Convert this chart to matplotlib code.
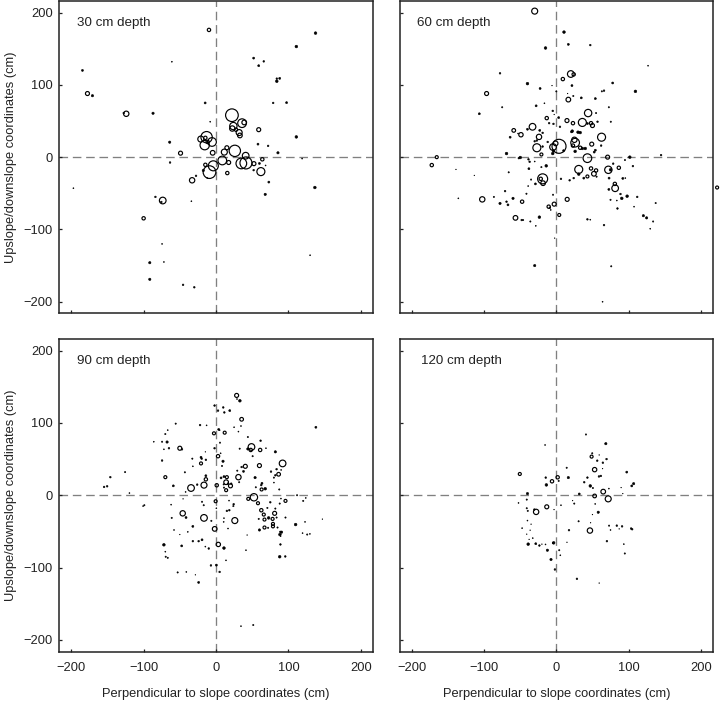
import matplotlib
matplotlib.use('Agg')
import matplotlib.pyplot as plt

plt.rcParams['font.family'] = ['Liberation Sans', 'DejaVu Sans']
plt.rcParams['font.size'] = 9.3

# Root positions (cm) and relative root size at each depth
x_30 = [-9.7, 137.5, 111, -61, 52, 59, 66, -184.5, 84, 88,
        84, -177.6, -170.7, -124, -127.5, -87, -15, 79, 97.5, 22,
        -8, 36, 39, 24, 22.5, 27.6, 32, 33, 59, 111,
        -13, -21, -5.5, -15.6, -14.7, -11.5, -64, 58, 72, 15,
        26, 11.5, -4.6, -49, 85.6, 119, -63.5, 8.7, 17.5, 41.4,
        35, 41, 52.4, 64, 60, 68.5, 52, 62, -14.7, -3.7,
        -9, -17.5, 15.6, -33, -27.6, -12, 73, 136.6, -197, 68,
        -83.7, -73.6, -75.5, -34, -100, -74.5, 130, -91.5, -72, -91.5,
        -45.5, -30]
y_30 = [176, 171.6, 153, 132, 137, 126.5, 132.5, 120, 108.6, 109,
        105, 88, 85, 60, 61, 60.7, 75, 75, 75.4, 58,
        49, 47, 48, 43, 39.6, 38, 34, 30, 38, 28,
        27.6, 25, 21, 16.6, 26.7, 21, 20.7, 18, 15.6, 13,
        8.7, 7, 6, 5.5, 6, -2, -7.4, -4.6, -7.4, -8,
        -8.7, 2, -9, -3, -8.7, -11.5, -18, -20, -10.6, -12,
        -20.7, -18.4, -22, -32, -25.8, -29, -34.5, -42, -43, -51.5,
        -55, -60, -62, -61, -84.6, -120, -135.7, -146, -145, -169,
        -176.6, -180]
d_30 = [10, 8, 8, 3, 6, 6, 5, 6, 5, 6,
        8, 12, 7, 16, 5, 7, 6, 5, 6, 38,
        3, 26, 14, 22, 16, 10, 18, 14, 12, 8,
        34, 18, 26, 28, 10, 10, 7, 6, 5, 12,
        34, 18, 14, 12, 7, 3, 5, 26, 12, 36,
        32, 20, 12, 10, 6, 3, 5, 24, 10, 30,
        38, 7, 10, 16, 5, 3, 6, 8, 3, 7,
        5, 20, 5, 3, 10, 3, 3, 7, 3, 7,
        5, 5]

x_60 = [-30, 10.6, 16.6, 47, -15, 127, -78, 20, 24, 9,
        -40, 78, 21.6, -6, -22.5, 0, 66, 63, 109.5, -96.6,
        15.6, 23.5, 16.6, 34.5, 54, -16.5, -28, -75, 72.7, -106.7,
        -5, 44, 55, -3, -13.3, 3.2, 14.7, 23, 36, 57,
        75.4, -10, -4, 5, 43, 48, 50, -33, -40, -59,
        -23, 22, 21, 30, 33, -19, -49, -53, -64, -24,
        62.6, 25, -27, 26, 3.7, -1, 49, -12, 23, -4.6,
        -27, -19, -30, 33, 36, 40, 62, 54, 52.4, 10,
        26, -4, -5, -20.7, -69, 43, 71, 101.7, 145, -165.6,
        -172.5, -50, -52, -38.6, -37, -30, 95, 78.7, -14, -20.7,
        -38, 106, 86.5, 31, 48, 55, 72, 75, -139, -113.6,
        -66, 31, 52, 43, 38, 55.7, 73, 92, 95.5, 6.4,
        18.4, 24, -19, -21.6, -18.4, -35, -29, -39, 81, 81.4,
        72.7, -71, -41.4, -4.6, 88.8, 98, 90.6, 112, 75, 83.7,
        -135.7, -102.6, -86.5, -60, -47.4, -78, -69, -67, 15, -3,
        -10.6, -7.8, -9, 137.5, 107.6, 84.6, 4, -56.6, -23.5, -48,
        -46, -36, 43, 47, 120.5, 125, 134, 130, 66, -28.5,
        -2.3, -30, 76, 64, 222.6]
y_60 = [202, 173, 156, 155, 151, 126.5, 116, 115, 114.5, 108,
        101.7, 102.6, 99, 99, 95, 91, 92, 91, 91, 88,
        88, 84.6, 79.6, 82, 81, 74.5, 71, 69, 69, 60,
        64, 61, 61, 59, 54, 54.7, 50.6, 47, 48, 49,
        49, 47, 46, 42, 46.5, 47, 43.7, 42, 38.6, 37,
        37, 36, 35, 34.5, 34, 33.6, 31, 32.7, 27.6, 28,
        27.6, 24, 23, 20, 15, 19, 18, 21, 16, 14,
        13, 14.7, 22, 13, 12, 12, 16, 9.6, 7, 9,
        8, 8.7, 5, 3.7, 5, -1.4, 0, 0, 2.8, 0,
        -11, -0.5, -1.4, -3, -6.4, -6, -4, -9, -12, -13.8,
        -16, -12.4, -14.7, -17, -15.6, -18.4, -17.5, -17.5, -17, -25.3,
        -21, -23.5, -23, -26.7, -29, -27, -29, -29.4, -29, -30,
        -32, -29, -30, -30, -36, -31, -37, -40, -37, -43,
        -44.6, -47, -50.6, -52, -51, -54, -57, -55, -59, -60,
        -57, -58.4, -55, -57, -61.6, -64, -61.6, -66, -58.4, -65,
        -68.5, -73, -70, -63.5, -68.5, -71, -80, -84, -83, -87,
        -87, -89, -86, -86.5, -81, -84, -89, -99, -94, -95,
        -112, -150, -151, -200, -42]
d_60 = [18, 8, 6, 5, 8, 3, 5, 20, 10, 10,
        8, 6, 6, 2, 6, 4, 5, 4, 8, 12,
        2, 4, 14, 6, 6, 3, 6, 4, 4, 6,
        5, 22, 4, 2, 10, 6, 12, 10, 24, 5,
        4, 5, 5, 5, 6, 10, 12, 20, 6, 11,
        6, 8, 6, 8, 8, 5, 13, 3, 6, 16,
        24, 16, 5, 26, 42, 14, 12, 5, 10, 20,
        24, 5, 5, 10, 8, 8, 5, 6, 6, 6,
        8, 8, 8, 9, 8, 26, 12, 8, 5, 9,
        10, 8, 5, 5, 5, 3, 4, 5, 8, 4,
        6, 5, 10, 24, 10, 10, 22, 8, 2, 2,
        4, 8, 14, 9, 6, 4, 6, 6, 3, 5,
        5, 5, 30, 10, 14, 4, 6, 3, 10, 20,
        6, 5, 4, 4, 5, 8, 8, 5, 4, 3,
        3, 16, 4, 7, 10, 7, 5, 6, 12, 12,
        10, 3, 5, 4, 3, 5, 9, 14, 8, 5,
        4, 4, 5, 3, 7, 7, 4, 3, 5, 3,
        2, 7, 4, 3, 9]

x_90 = [28.5, 33, 29, -2, 2.8, 10, 11.5, 19, 35.4, 138,
        -55.7, -22, -13, -66.7, -70, 3.7, 5, -2.8, 12, 25,
        34.5, 31, 44, -86, -74.5, -67.6, 61.6, 5.5, -50, -47,
        -72, -65, -2, 49, 44, 48, 32.7, 61, 69, 82,
        6.4, -14.7, 2.8, -74.5, -32.7, -20.7, -19.8, -14, -20.7, -32,
        9.7, 8.3, 50.6, 92, 40.5, 60, 35.4, 29.4, 38, -43,
        76, 83.7, 90, 86.5, 82, 80, 80, 31, 54, -70,
        -14, -14, 7, 11, 15, 14, 32, 63.5, 62.5, -59,
        -16.6, -34.5, -26, 1, 10.6, 16.5, 21, 20, 14, 11,
        55, 63, 68, 87.4, -119.6, -125.6, -146, -154.6, -150.4, -42,
        52.4, 44.6, 58, 112, 124, 120.5, 96, 75, 88, 89.7,
        -0.5, -19.3, -17, -45.5, -62, -99, -100.7, 18, 24.4, 24,
        0.5, 15, 18.4, 62.6, 71, 82, 66, 81, -46, -41.4,
        -61.2, -16.6, -6.4, 11, 26, 59, 67, 72.7, 78.2, 83.7,
        96, 147, 123, 110, -1.8, 10.6, -32, -58, -39, -50,
        78.7, 78.7, 67, 60, 72, 85, 16.6, 90.6, 88.8, 88.3,
        89.2, 119.6, 126, 129.7, 43, -72, -47.4, -32, -24, -19.3,
        -14.7, -10, 3.2, 11, 89, 41.4, -70, -69.5, -66.7, 88,
        95.7, 13.8, -7, 0.5, 5, -53, -41, -28.5, -24, 34.5,
        51.5]
y_90 = [138, 130.6, 133, 124, 117, 121.4, 114.5, 117, 105, 94,
        99, 97, 96.6, 90, 84.6, 91, 90, 85.6, 86.5, 94,
        95.7, 88, 80.5, 74, 74, 73.6, 75.4, 72.7, 65, 63.5,
        63.5, 65, 65, 66.7, 64, 62.6, 64.4, 62.6, 65, 60,
        58, 60, 54, 48, 50.6, 52.5, 50.6, 49, 44, 40,
        47, 40.5, 54, 44, 40, 41, 39, 34, 33, 31.7,
        32.7, 36, 35, 29, 27.6, 24.4, 17.5, 25, 24.4, 25,
        27, 22, 24, 25.8, 25, 18, 18, 16.5, 14, 13,
        14, 10, 14.7, 13.8, 15, 16, 16, 13, 7, 10.6,
        11, 8, 9, 8, 3, 32, 25, 11.5, 12.4, 4.6,
        -2.8, -5, -11, 0, -3.7, -7.8, -7.8, -9.7, -11.5, -4.6,
        -8.3, -9, -13.8, -5, -13, -13.8, -15, -7.4, -12.4, -15,
        -18, -21.6, -20.7, -20.7, -17.5, -18.4, -26.7, -25, -25, -30.8,
        -31.3, -31.3, -35.4, -31.7, -35, -32.7, -33.6, -31.3, -32.7, -30.8,
        -30.8, -33, -36.8, -40.5, -46.5, -36.8, -43, -48, -50.6, -54.3,
        -39.6, -43, -44.6, -48, -45, -44.6, -46, -51, -50.6, -54.3,
        -56.6, -52.4, -54.3, -53.4, -55, -68.5, -70, -63.5, -63.5, -61.6,
        -71, -73.6, -68, -73, -68, -76, -78, -85, -86.5, -85,
        -84.6, -90, -97, -96.6, -106, -106.7, -106, -110, -120.5, -181,
        -179.4]
d_90 = [12, 8, 3, 5, 5, 5, 5, 6, 11, 6,
        4, 5, 3, 3, 4, 6, 3, 9, 9, 3,
        3, 3, 4, 3, 4, 7, 5, 4, 12, 5,
        3, 5, 5, 20, 7, 10, 4, 10, 3, 7,
        3, 2, 10, 5, 4, 6, 5, 5, 9, 3,
        7, 4, 4, 20, 12, 12, 5, 4, 6, 4,
        5, 5, 3, 11, 5, 4, 3, 16, 7, 9,
        6, 10, 6, 6, 9, 14, 4, 6, 5, 6,
        18, 20, 5, 10, 4, 5, 5, 12, 9, 4,
        4, 9, 8, 4, 3, 4, 5, 5, 5, 3,
        22, 9, 9, 4, 3, 4, 9, 5, 4, 3,
        9, 4, 4, 2, 3, 4, 3, 3, 5, 4,
        3, 5, 5, 10, 4, 4, 9, 12, 16, 6,
        4, 20, 4, 3, 18, 4, 9, 8, 9, 4,
        4, 2, 3, 8, 14, 3, 6, 3, 3, 2,
        9, 9, 9, 7, 4, 4, 3, 7, 5, 8,
        3, 3, 4, 3, 2, 8, 6, 5, 5, 6,
        3, 5, 13, 8, 5, 3, 3, 4, 4, 8,
        5, 3, 5, 6, 5, 4, 3, 2, 6, 3,
        4]

x_120 = [41, 68.5, -15.6, 49.7, 48.8, 59.3, 56.6, 69.5, 64.4, 53,
         14.3, 64, 97.5, -50.6, -14.7, 1.8, 16.6, 43, 59, 61.6,
         -6, 3.2, 38.6, -13.8, 107, 104.4, 47, 50.6, 89.7, 72.7,
         64.9, 92, -40, 31.7, 53, 71.8, -41, -52.4, 22.5, 24.8,
         6.4, 53.8, -13.3, -41, -39.6, -28, -30.5, -3.2, 58, 50,
         -40, 30.8, 47.4, -35, -47.4, -36.3, -41, 17.5, 46.5, 73,
         83.7, 91, 87, 75, 103.5, 105, -32.7, -37.7, -39, -28.5,
         -23.5, -20, -15, -3.7, -4.6, 14.7, 70, 93.4, 94.8, -12.4,
         4, 5.5, -7.4, -2, 28.5, 59.3]
y_120 = [84, 71.3, 69.5, 58, 53.4, 55.7, 47.8, 50, 45, 35.4,
         38, 36.8, 32, 29.4, 24.4, 24.8, 24.4, 24.4, 26, 26.7,
         19.3, 19.8, 18, 14.3, 16, 12.9, 12.9, 10, 10.6, 9.2,
         5, 2.3, 2.3, 1.8, -1, -5, -6, -10.6, -7.4, -11.5,
         -13.8, -12, -16, -18, -21.6, -23, -19.8, -19.8, -23.5, -26.7,
         -35, -36, -38, -40, -45.5, -48.3, -53.8, -48.3, -48.8, -42,
         -42, -43, -46.5, -48, -46, -47, -59.3, -61, -67.6, -67,
         -69.5, -67.6, -68, -65.8, -66, -65, -63.5, -67.6, -80.5, -76,
         -76, -83, -88.8, -102.6, -115.5, -121.4]
d_120 = [4, 7, 3, 4, 9, 2, 5, 5, 5, 13,
         4, 2, 6, 9, 5, 10, 7, 5, 5, 5,
         10, 4, 5, 8, 7, 6, 8, 4, 2, 3,
         14, 2, 7, 6, 11, 18, 4, 3, 2, 4,
         3, 3, 12, 4, 4, 16, 5, 2, 7, 2,
         3, 4, 2, 2, 3, 2, 2, 5, 16, 4,
         5, 5, 2, 3, 5, 5, 3, 2, 8, 6,
         5, 2, 3, 8, 5, 2, 5, 3, 4, 7,
         4, 3, 7, 5, 5, 2]

panels = [
    (x_30, y_30, d_30, '30 cm depth', -192),
    (x_60, y_60, d_60, '60 cm depth', -193),
    (x_90, y_90, d_90, '90 cm depth', -192),
    (x_120, y_120, d_120, '120 cm depth', -187),
]
ticks = [-200, -100, 0, 100, 200]

W, H = 720, 701
fig = plt.figure(figsize=(7.2, 7.01), dpi=100)

# left, top, right, bottom of each panel in pixels
boxes = [(59.3, 1, 372.7, 313.3), (400, 1, 712.7, 313.3),
         (59.3, 339, 372.7, 651.5), (400, 339, 712.7, 651.5)]

for i, (xs, ys, ds, label, label_x) in enumerate(panels):
    l, t, r, b = boxes[i]
    ax = fig.add_axes([l / W, 1 - b / H, (r - l) / W, (b - t) / H])
    ax.set_xlim(-216.5, 216.5)
    ax.set_ylim(-216, 216)
    ax.axhline(0, color='#808080', lw=0.95, dashes=(6.5, 3.6), zorder=1)
    ax.axvline(0, color='#808080', lw=0.95, dashes=(6.5, 3.6), zorder=1)
    # sizes were read at 3x zoom, scatter wants points squared
    sizes = [(d / 3 * 0.72) ** 2 for d in ds]
    # the smallest roots print as solid dots, so thinner edge on those
    face = ['black' if d <= 8 else 'none' for d in ds]
    edge = [0.4 if d <= 8 else 0.85 for d in ds]
    ax.scatter(xs, ys, s=sizes, facecolors=face, edgecolors='black',
               linewidths=edge, zorder=2, clip_on=False)
    ax.text(label_x, 185, label, va='center', ha='left', color='#222222', fontsize=9.6)
    ax.set_xticks(ticks)
    ax.set_yticks(ticks)
    ax.tick_params(direction='in', length=2.5, width=0.9, color='#222222',
                   labelcolor='#222222', labelbottom=i >= 2, labelleft=i % 2 == 0)
    ax.tick_params(axis='x', pad=7.5)
    ax.tick_params(axis='y', pad=4.5)
    for s in ax.spines.values():
        s.set_linewidth(1.1)
        s.set_color('#222222')
    if i >= 2:
        ax.set_xlabel('Perpendicular to slope coordinates (cm)', color='#222222', labelpad=10)
    if i % 2 == 0:
        ax.set_ylabel('Upslope/downslope coordinates (cm)', color='#222222', labelpad=5)

fig.savefig('out.png', dpi=100)
